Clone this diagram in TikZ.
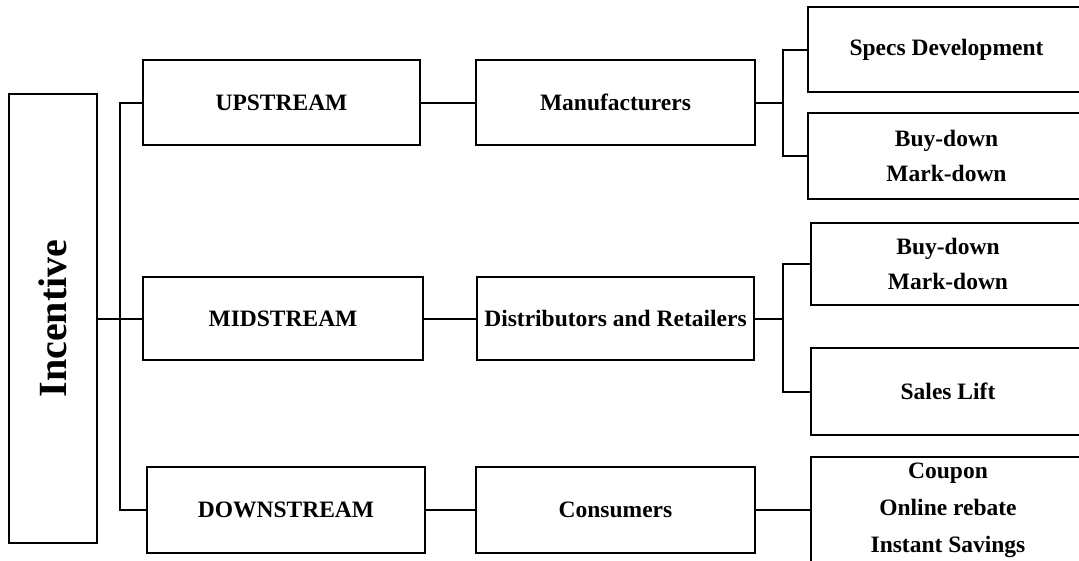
\documentclass[tikz,border=0pt]{standalone}
\usepackage{fontspec}
\setmainfont{Liberation Serif}
\begin{document}
\begin{tikzpicture}[x=1pt,y=-1pt,
  box/.style={draw, line width=2pt, inner sep=0pt, align=center,
    font=\fontsize{23.5}{35}\selectfont\bfseries},
  conn/.style={line width=2pt}]
\path[use as bounding box] (0,0) rectangle (1079,560);
\clip (0,0) rectangle (1079,560);
% root
\node[box, rotate=90, minimum width=449pt, minimum height=88pt,
  font=\fontsize{40}{48}\selectfont\bfseries] (inc) at (53,318.5) {Incentive};
% level 1
\node[box, minimum width=277pt, minimum height=85pt] (up) at (281.5,102.5) {UPSTREAM};
\node[box, minimum width=280pt, minimum height=83pt] (mid) at (283,318.5) {MIDSTREAM};
\node[box, minimum width=278pt, minimum height=86pt] (down) at (286,510) {DOWNSTREAM};
% level 2
\node[box, minimum width=279pt, minimum height=85pt] (manu) at (615.5,102.5) {Manufacturers};
\node[box, minimum width=277pt, minimum height=83pt] (dist) at (615.5,318.5) {Distributors and Retailers};
\node[box, minimum width=279pt, minimum height=86pt] (cons) at (615.5,510) {Consumers};
% level 3
\node[box, minimum width=277pt, minimum height=85pt] (specs) at (946.5,49.5) {Specs Development};
\node[box, minimum width=277pt, minimum height=86pt] (bmA) at (946.5,156) {Buy-down\\Mark-down};
\node[box, minimum width=274pt, minimum height=82pt] (bmB) at (948,264) {Buy-down\\Mark-down};
\node[box, minimum width=274pt, minimum height=87pt] (sales) at (948,391.5) {Sales Lift};
\node[box, minimum width=274pt, minimum height=106pt,
  font=\fontsize{23.5}{37}\selectfont\bfseries] (coup) at (948,510) {Coupon\\Online rebate\\Instant Savings};
% trunk
\coordinate (tr) at (120,318.5);
\draw[conn] (inc.south) -- (tr);
\draw[conn] (up.west) -| (tr);
\draw[conn] (down.west) -| (tr);
\draw[conn] (mid.west) -- (tr);
% rows
\draw[conn] (up) -- (manu);
\draw[conn] (mid) -- (dist);
\draw[conn] (down) -- (cons);
% brackets
\draw[conn] (manu.east) -- ++(27,0) coordinate (b1);
\draw[conn] (specs.west) -| (b1) |- (bmA.west);
\draw[conn] (dist.east) -- ++(28,0) coordinate (b2);
\draw[conn] (bmB.west) -| (b2) |- (sales.west);
\draw[conn] (cons.east) -- (coup.west);
\end{tikzpicture}
\end{document}
